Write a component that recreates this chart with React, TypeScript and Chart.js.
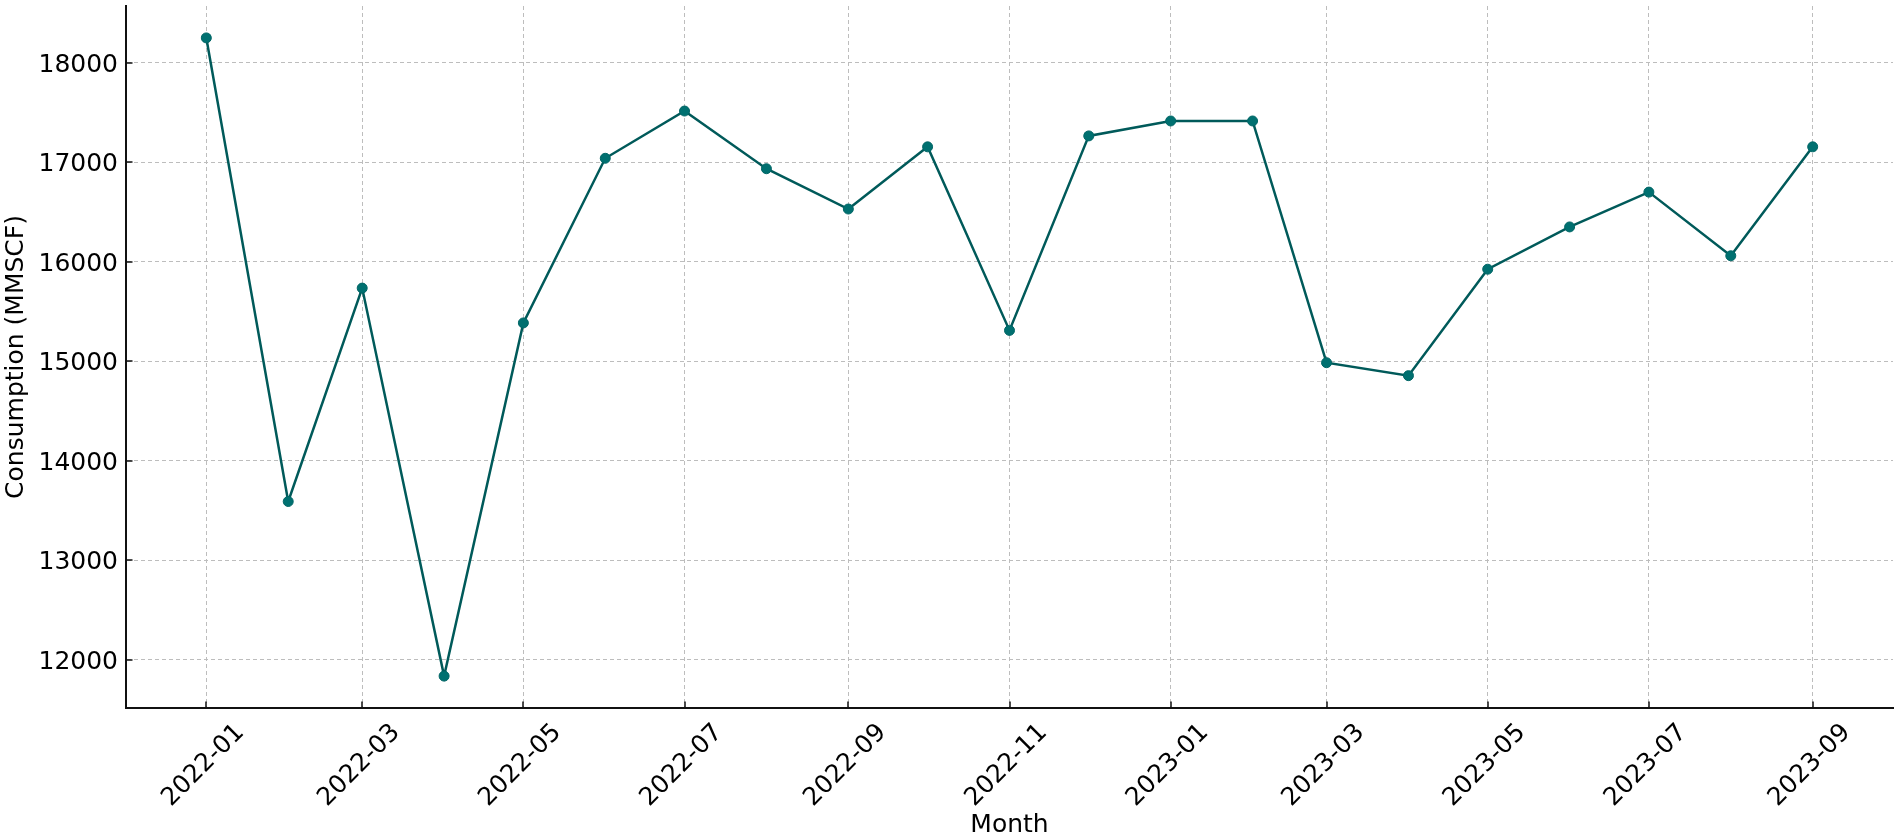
import React, { useEffect, useRef } from "react";
import { Chart, registerables } from "chart.js";

Chart.register(...registerables);

const months = [
  "2022-01", "2022-02", "2022-03", "2022-04", "2022-05", "2022-06", "2022-07",
  "2022-08", "2022-09", "2022-10", "2022-11", "2022-12", "2023-01", "2023-02",
  "2023-03", "2023-04", "2023-05", "2023-06", "2023-07", "2023-08", "2023-09",
];

const consumption = [
  18250, 13590, 15735, 11835, 15385, 17040, 17515,
  16935, 16530, 17155, 15310, 17265, 17415, 17415,
  14985, 14855, 15925, 16350, 16700, 16060, 17155,
];

const xTickLabels = [
  "2022-01", "2022-03", "2022-05", "2022-07", "2022-09", "2022-11",
  "2023-01", "2023-03", "2023-05", "2023-07", "2023-09",
];

const yTickValues = [12000, 13000, 14000, 15000, 16000, 17000, 18000];

const DAY = 86400000;
const BASE = Date.UTC(2022, 0, 1);
const dayOf = (label: string) => {
  const [y, m] = label.split("-").map(Number);
  return (Date.UTC(y, m - 1, 1) - BASE) / DAY;
};

const FONT = "DejaVu Sans";
const FS = 25;

const inwardTicks = {
  id: "inwardTicks",
  afterDraw(chart: any) {
    const { ctx, chartArea, scales } = chart;
    ctx.save();
    ctx.strokeStyle = "#111";
    ctx.lineWidth = 1.5;
    ctx.beginPath();
    scales.y.ticks.forEach((t: any) => {
      const py = Math.round(scales.y.getPixelForValue(t.value));
      ctx.moveTo(chartArea.left, py);
      ctx.lineTo(chartArea.left + 6.5, py);
    });
    scales.x.ticks.forEach((t: any) => {
      const px = Math.round(scales.x.getPixelForValue(t.value));
      ctx.moveTo(px, chartArea.bottom);
      ctx.lineTo(px, chartArea.bottom - 6.5);
    });
    ctx.stroke();
    ctx.restore();
  },
};

export default function App() {
  const ref = useRef<HTMLCanvasElement | null>(null);

  useEffect(() => {
    if (!ref.current) return;
    const points = months.map((m, i) => ({ x: dayOf(m), y: consumption[i] }));
    const xMin = dayOf(months[0]);
    const xMax = dayOf(months[months.length - 1]);
    const xMargin = (xMax - xMin) * 0.05;
    const yMinV = Math.min(...consumption);
    const yMaxV = Math.max(...consumption);
    const yMargin = (yMaxV - yMinV) * 0.05;

    const chart = new Chart(ref.current, {
      type: "line",
      data: {
        datasets: [
          {
            data: points,
            borderColor: "#005a5a",
            borderWidth: 2.5,
            backgroundColor: "#007070",
            pointBackgroundColor: "#007070",
            pointBorderColor: "#006666",
            pointBorderWidth: 1,
            pointRadius: 5,
            tension: 0,
            fill: false,
          },
        ],
      },
      plugins: [inwardTicks],
      options: {
        animation: false,
        responsive: false,
        devicePixelRatio: 1,
        layout: { padding: { left: 0, right: 3, top: 5, bottom: 0 } },
        plugins: {
          legend: { display: false },
          tooltip: { enabled: false },
          title: { display: false },
        },
        scales: {
          x: {
            type: "linear",
            min: xMin - xMargin,
            max: xMax + xMargin,
            afterBuildTicks: (scale: any) => {
              scale.ticks = xTickLabels.map((l) => ({ value: dayOf(l) }));
            },
            afterFit: (scale: any) => {
              scale.height = 132;
              scale.paddingLeft = 0;
              scale.paddingRight = 0;
            },
            ticks: {
              autoSkip: false,
              minRotation: 45,
              maxRotation: 45,
              padding: 10,
              labelOffset: 34,
              color: "#000",
              font: { family: FONT, size: FS },
              callback: (value: any) => {
                const l = xTickLabels.find((s) => dayOf(s) === Number(value));
                return l ?? "";
              },
            },
            grid: {
              color: "#bdbdbd",
              lineWidth: 1,
              drawTicks: false,
            },
            border: { display: true, color: "#111", width: 2, dash: [4, 3] },
            title: {
              display: true,
              text: "Month",
              color: "#000",
              font: { family: FONT, size: FS },
              padding: { top: 0, bottom: 0 },
            },
          },
          y: {
            type: "linear",
            min: yMinV - yMargin,
            max: yMaxV + yMargin,
            afterBuildTicks: (scale: any) => {
              scale.ticks = yTickValues.map((v) => ({ value: v }));
            },
            afterFit: (scale: any) => {
              scale.width = 126;
              scale.paddingTop = 0;
              scale.paddingBottom = 0;
            },
            ticks: {
              padding: 8,
              labelOffset: 2.5,
              color: "#000",
              font: { family: FONT, size: FS },
              callback: (value: any) => String(value),
            },
            grid: {
              color: "#bdbdbd",
              lineWidth: 1,
              drawTicks: false,
            },
            border: { display: true, color: "#111", width: 2, dash: [4, 3] },
            title: {
              display: true,
              text: "Consumption (MMSCF)",
              color: "#000",
              font: { family: FONT, size: FS },
              padding: { top: 1, bottom: 0 },
            },
          },
        },
      },
    });
    return () => chart.destroy();
  }, []);

  return (
    <canvas
      ref={ref}
      width={1899}
      height={840}
      style={{ position: "fixed", left: 0, top: 0, width: 1899, height: 840, background: "#fff" }}
    />
  );
}
